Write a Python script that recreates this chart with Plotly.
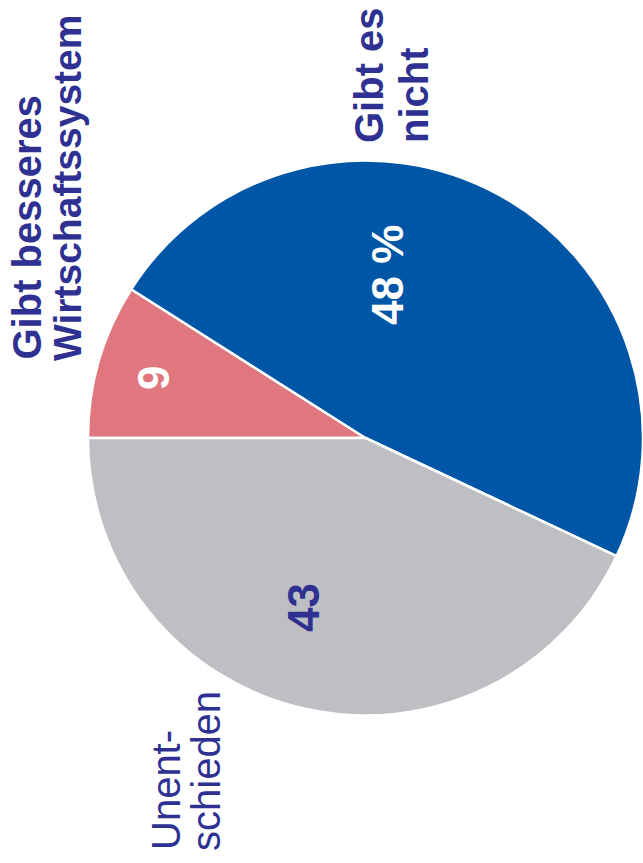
import plotly.graph_objects as go

# Survey shares, in drawing order (clockwise from 9 o'clock)
categories = ["Gibt besseres Wirtschaftssystem", "Gibt es nicht", "Unentschieden"]
values = [9, 48, 43]
slice_colors = ["#E0777F", "#0056A6", "#BEBFC3"]
value_text_colors = ["#FFFFFF", "#FFFFFF", "#2E3192"]
value_suffix = ["", " %", ""]

# Outside label lines, each line placed on its own
label_lines = [
    ("Gibt besseres", True), ("Wirtschaftssystem", True),
    ("Gibt es", True), ("nicht", True),
    ("Unent-", False), ("schieden", False),
]

W, H = 643, 863
LABEL_BLUE = "#2E3192"
FONT = "Liberation Sans, Arial, sans-serif"

fig = go.Figure(go.Pie(
    labels=categories,
    values=values,
    sort=False,
    direction="clockwise",
    rotation=270,
    marker=dict(colors=slice_colors, line=dict(color="white", width=2.5)),
    textinfo="none",
    hoverinfo="label+percent",
    showlegend=False,
    domain=dict(x=[88 / W, 1.0], y=[1 - 716 / H, 1 - 160 / H]),
))


def px(x, y):
    return x / W, 1 - y / H


annotations = []

# Values inside the slices, rotated to read bottom-to-top
value_pos = [(153, 378), (387, 275), (303, 608)]
for v, suf, col, (x, y) in zip(values, value_suffix, value_text_colors, value_pos):
    ax, ay = px(x, y)
    annotations.append(dict(
        x=ax, y=ay, xref="paper", yref="paper", xanchor="center", yanchor="middle",
        text=f"<b>{v}{suf}</b>", showarrow=False, textangle=-90,
        font=dict(family=FONT, size=44, color=col),
    ))

# Category labels outside the pie
line_pos = [(26, 362), (67, 363), (369, 145), (414, 145), (166, 852), (206, 853)]
line_sizes = [40, 39, 40, 40, 40, 40]
for (txt, bold), (x, y), sz in zip(label_lines, line_pos, line_sizes):
    ax, ay = px(x, y)
    annotations.append(dict(
        x=ax, y=ay, xref="paper", yref="paper", xanchor="center", yanchor="bottom",
        text=f"<b>{txt}</b>" if bold else txt, showarrow=False, textangle=-90,
        font=dict(family=FONT, size=sz, color=LABEL_BLUE),
    ))

fig.update_layout(
    width=W, height=H,
    margin=dict(l=0, r=0, t=0, b=0),
    paper_bgcolor="white", plot_bgcolor="white",
    annotations=annotations,
)

fig.write_html("out.html")
